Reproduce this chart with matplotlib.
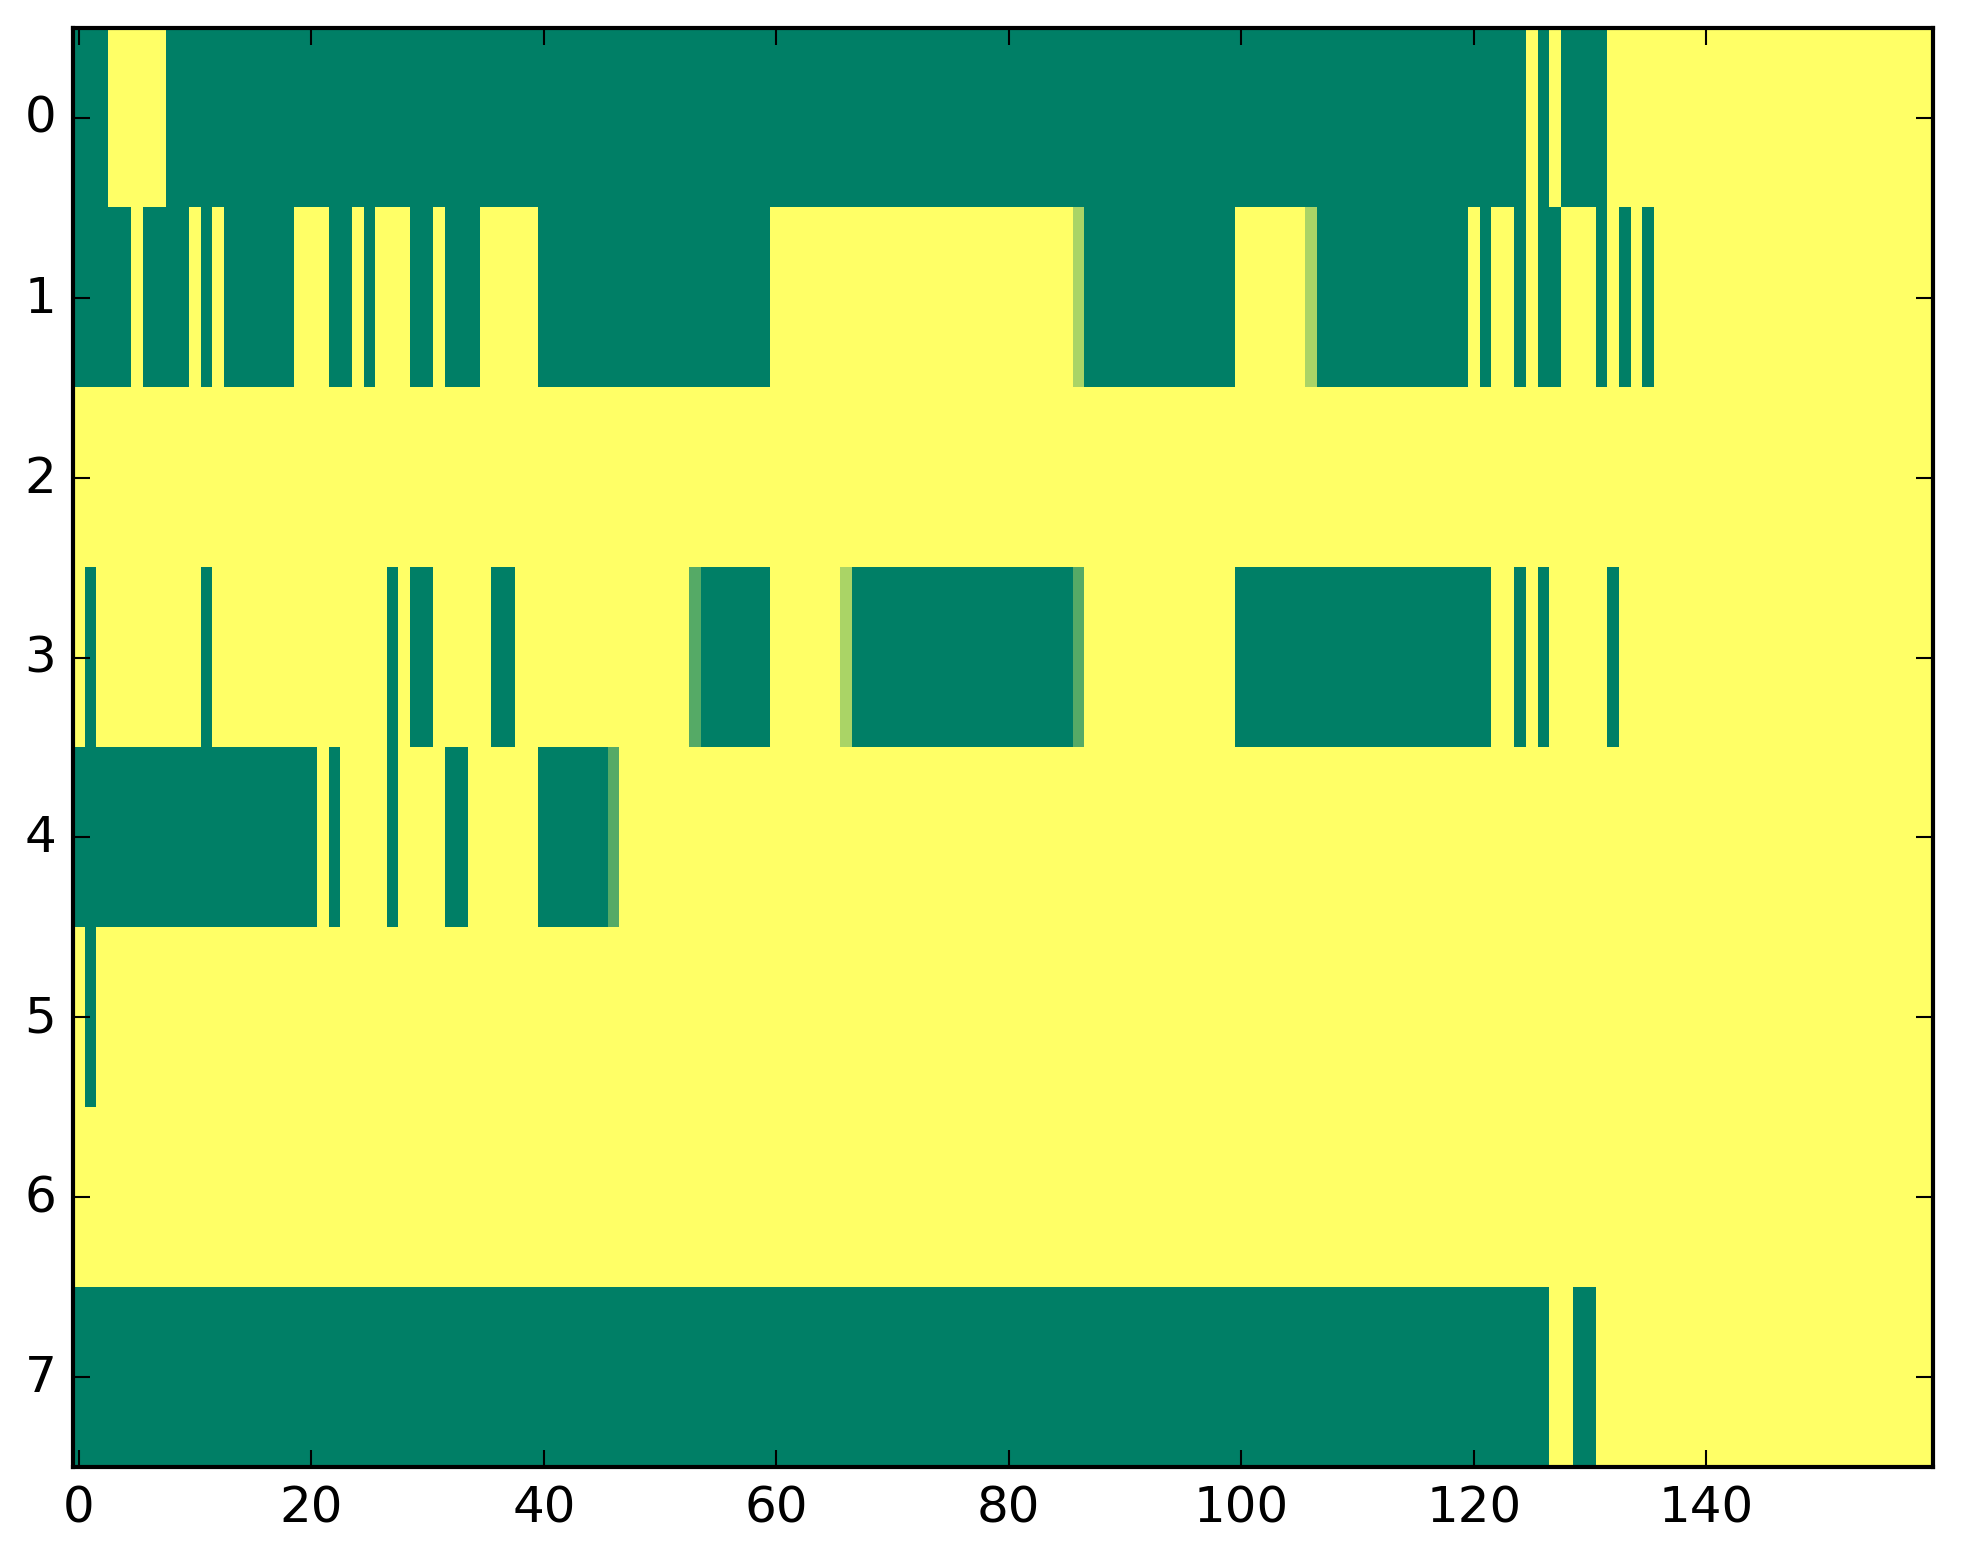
import numpy as np
import matplotlib
matplotlib.use('Agg')
import matplotlib.pyplot as plt

# each row of the 8 x 160 grid as (value, run length) pairs
# 0 = green, 1 = yellow, 1/3 and 2/3 are the in-between cells
row0 = [(0, 3), (1, 5), (0, 117), (1, 1), (0, 1), (1, 1), (0, 4), (1, 28)]
row1 = [(0, 5), (1, 1), (0, 4), (1, 1), (0, 1), (1, 1), (0, 6), (1, 3),
        (0, 2), (1, 1), (0, 1), (1, 3), (0, 2), (1, 1), (0, 3), (1, 5),
        (0, 20), (1, 26), (2/3, 1), (0, 13), (1, 6), (2/3, 1), (0, 13),
        (1, 1), (0, 1), (1, 2), (0, 1), (1, 1), (0, 2), (1, 3), (0, 1),
        (1, 1), (0, 1), (1, 1), (0, 1), (1, 24)]
row2 = [(1, 160)]
row3 = [(1, 1), (0, 1), (1, 9), (0, 1), (1, 15), (0, 1), (1, 1), (0, 2),
        (1, 5), (0, 2), (1, 15), (1/3, 1), (0, 6), (1, 6), (2/3, 1),
        (0, 19), (1/3, 1), (1, 13), (0, 22), (1, 2), (0, 1), (1, 1),
        (0, 1), (1, 5), (0, 1), (1, 27)]
row4 = [(0, 21), (1, 1), (0, 1), (1, 4), (0, 1), (1, 4), (0, 2), (1, 6),
        (0, 6), (1/3, 1), (1, 113)]
row5 = [(1, 1), (0, 1), (1, 158)]
row6 = [(1, 160)]
row7 = [(0, 127), (1, 2), (0, 2), (1, 29)]

rows = [row0, row1, row2, row3, row4, row5, row6, row7]


def expand(runs):
    vals = [v for v, n in runs]
    counts = [n for v, n in runs]
    return np.repeat(vals, counts)


grid = np.array([expand(r) for r in rows])

plt.style.use('classic')
plt.rcParams['figure.facecolor'] = 'white'
plt.rcParams['savefig.facecolor'] = 'white'

fig = plt.figure(figsize=(1963 / 300, 1564 / 300), dpi=300)
ax = fig.add_axes([0.0372, 0.0614, 0.9475, 0.9201])
ax.imshow(grid, cmap='summer', vmin=0, vmax=1, aspect='auto',
          interpolation='nearest')
ax.set_xticks(np.arange(0, 160, 20))
ax.set_yticks(np.arange(0, 8))
ax.set_xlim(-0.5, 159.5)
ax.set_ylim(7.5, -0.5)

fig.savefig('out.png', dpi=300)
